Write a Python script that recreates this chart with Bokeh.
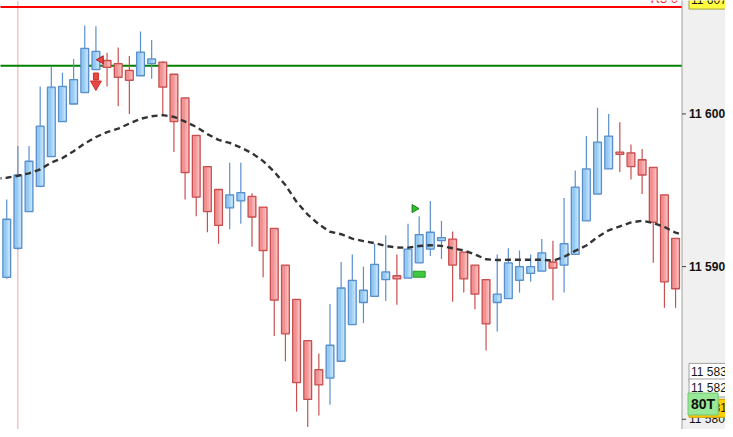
import numpy as np
from bokeh.plotting import figure
from bokeh.models import ColumnDataSource, Range1d, Span
from bokeh.core.properties import value
from bokeh.embed import file_html
from bokeh.resources import INLINE

# ---- data ----
opens = [11589.3, 11591.2, 11593.6, 11595.25, 11597.2, 11599.5, 11600.65, 11601.4, 11602.9, 11603.5,
         11603.3, 11602.85, 11602.5, 11603.3, 11603.4, 11602.6, 11601.05, 11598.6, 11596.55, 11595.05,
         11593.85, 11594.3, 11594.6, 11593.9, 11592.5, 11590.1, 11587.85, 11585.15, 11583.25, 11582.7,
         11583.8, 11586.2, 11587.65, 11588.05, 11589.15, 11589.4, 11589.25, 11590.25, 11591.15, 11591.7,
         11591.8, 11590.95, 11590.1, 11589.15, 11587.65, 11587.9, 11589.1, 11589.55, 11589.7, 11590.3,
         11590.1, 11590.8, 11593.0, 11594.75, 11596.4, 11597.5, 11597.45, 11597.0, 11596.5, 11594.7,
         11591.85]
highs = [11594.4, 11597.9, 11597.9, 11601.8, 11603.1, 11602.7, 11603.6, 11605.8, 11605.75, 11604.0,
         11604.35, 11603.8, 11605.4, 11604.85, 11603.45, 11602.6, 11601.05, 11598.6, 11596.55, 11595.05,
         11596.8, 11596.8, 11594.8, 11593.9, 11592.5, 11590.1, 11587.85, 11585.15, 11584.3, 11587.55,
         11590.3, 11590.8, 11590.0, 11591.5, 11592.05, 11590.8, 11592.8, 11593.3, 11594.3, 11593.0,
         11592.3, 11590.95, 11590.1, 11589.15, 11590.8, 11591.2, 11591.05, 11590.8, 11591.8, 11591.7,
         11594.5, 11596.3, 11598.55, 11600.4, 11600.0, 11599.45, 11598.0, 11597.7, 11596.5, 11594.7,
         11591.85]
lows = [11589.2, 11591.1, 11593.6, 11595.2, 11597.2, 11599.5, 11600.65, 11601.4, 11602.9, 11601.8,
        11600.5, 11600.0, 11602.5, 11602.3, 11600.0, 11597.5, 11594.4, 11593.3, 11592.25, 11591.5,
        11592.45, 11592.8, 11591.3, 11589.3, 11585.45, 11583.8, 11580.5, 11579.5, 11580.25, 11580.95,
        11583.8, 11586.2, 11586.3, 11588.05, 11587.75, 11587.5, 11589.25, 11590.25, 11590.7, 11590.5,
        11587.7, 11588.3, 11587.2, 11584.5, 11585.75, 11587.9, 11588.3, 11589.0, 11589.7, 11587.8,
        11588.3, 11590.8, 11593.0, 11594.75, 11596.4, 11596.2, 11595.7, 11594.75, 11590.25, 11587.3,
        11587.3]
closes = [11593.1, 11596.0, 11596.9, 11599.2, 11601.75, 11601.8, 11602.25, 11604.3, 11604.1, 11603.05,
          11602.4, 11602.2, 11604.05, 11603.6, 11601.75, 11599.5, 11596.15, 11594.55, 11593.6, 11592.7,
          11594.7, 11594.85, 11593.25, 11591.05, 11587.8, 11585.6, 11582.4, 11581.3, 11582.25, 11584.85,
          11588.6, 11589.1, 11588.45, 11590.15, 11589.65, 11589.2, 11591.15, 11592.1, 11592.25, 11591.9,
          11590.1, 11589.2, 11588.2, 11586.25, 11588.2, 11590.25, 11590.0, 11590.0, 11590.9, 11589.9,
          11591.5, 11595.2, 11596.4, 11598.15, 11598.55, 11597.35, 11596.55, 11596.0, 11592.9, 11589.0,
          11588.55]

ma_x = list(range(-1, 62))
ma_vals = [11595.75, 11595.82, 11595.95, 11596.11, 11596.37, 11596.82, 11597.11, 11597.56, 11598.07, 11598.49,
           11598.81, 11599.04, 11599.37, 11599.68, 11599.85, 11599.92, 11599.81, 11599.50, 11599.15, 11598.68,
           11598.30, 11598.10, 11597.80, 11597.43, 11596.91, 11596.21, 11595.34, 11594.24, 11593.41, 11592.77,
           11592.28, 11592.12, 11591.83, 11591.67, 11591.54, 11591.35, 11591.25, 11591.24, 11591.35, 11591.40,
           11591.36, 11591.20, 11591.06, 11590.80, 11590.48, 11590.43, 11590.45, 11590.45, 11590.45, 11590.45,
           11590.39, 11590.64, 11591.03, 11591.38, 11591.93, 11592.38, 11592.64, 11592.89, 11593.00, 11592.86,
           11592.60, 11592.22, 11592.00]

r3_level = 11607.0
r3_text = "R3 0"
r3_price_text = "11 607,"
green_level = 11603.15
crosshair_x = 1
y_ticks = [11580, 11590, 11600]
y_tick_labels = ["11 580", "11 590", "11 600"]
y_tick_styles = ["normal", "bold", "bold"]

down_arrow_x = [8]
down_arrow_head_y = [11601.95]
down_arrow_shaft_y = [11602.45]
left_tri_x = [8.45]
left_tri_y = [11603.55]
right_tri_x = [36.57]
right_tri_y = [11593.8]
green_box_x = [37]
green_box_y = [11589.5]

box_y = [11583.07, 11582.05]
box_text = ["11 583,", "11 582,"]
last_y = 11580.85
last_text = "11 581,"
tag_y = 11581.0
tag_text = "80T"

# ---- layout constants ----
AXIS_X = 60.58          # position of the price-axis border (in bar units)
X_END = 64.48
BODY_W = 0.7
FONT = value("Liberation Sans")

p = figure(width=725, height=429, output_backend="svg", toolbar_location=None,
           x_range=Range1d(-0.56, X_END), y_range=Range1d(11579.33, 11607.43),
           min_border=0)
p.axis.visible = False
p.grid.visible = False
p.outline_line_color = None
p.background_fill_color = "white"
p.border_fill_color = "white"

p.add_layout(Span(location=crosshair_x, dimension="height", line_color="#f2a4a4",
                  line_width=1, level="underlay"))

# level lines
p.segment(x0=[-1, -1], y0=[r3_level, green_level], x1=[AXIS_X, AXIS_X], y1=[r3_level, green_level],
          line_color=["#ff0000", "#008000"], line_width=2)

# candles
x = np.arange(len(opens))
o = np.array(opens); c = np.array(closes)
up = c >= o
top = np.maximum(o, c); bot = np.minimum(o, c)
src = ColumnDataSource(dict(
    x=x, high=highs, low=lows, top=top, bottom=bot,
    fill=np.where(up, "#93c9f2", "#f19191"),
    line=np.where(up, "#5a8fcc", "#c85050"),
))
p.segment(x0="x", y0="high", x1="x", y1="low", source=src, line_color="line", line_width=1.2)
p.vbar(x="x", width=BODY_W, top="top", bottom="bottom", source=src,
       fill_color="fill", line_color="line", line_width=1.3)

# body shading (horizontal gradient imitation: lighter towards the right)
inset = 0.08
itop = top - inset; ibot = bot + inset
ok = itop > ibot
for lo_f, hi_f, col_up, col_dn in [(-0.02, 0.12, "#acd7f7", "#f5a6a6"),
                                   (0.12, 0.27, "#c4e3fb", "#f9bcbc")]:
    sh = ColumnDataSource(dict(
        left=(x + lo_f)[ok], right=(x + hi_f)[ok], top=itop[ok], bottom=ibot[ok],
        fill=np.where(up, col_up, col_dn)[ok]))
    p.quad(left="left", right="right", top="top", bottom="bottom", source=sh,
           fill_color="fill", line_color=None)

# moving average
p.line(ma_x, ma_vals, line_color="#333333", line_width=2.4, line_dash="6 4")

# markers
p.rect(down_arrow_x, down_arrow_shaft_y, width=5, height=7, width_units="screen", height_units="screen",
       fill_color="#e84545", line_color="#d03030")
p.scatter(down_arrow_x, down_arrow_head_y, marker="inverted_triangle", size=11,
          fill_color="#e84545", line_color="#d03030")
p.scatter(left_tri_x, left_tri_y, marker="triangle", angle=np.pi / 2, size=8,
          fill_color="#e84545", line_color="#b02020")
p.scatter(right_tri_x, right_tri_y, marker="triangle", angle=-np.pi / 2, size=8,
          fill_color="#30c030", line_color="#108010")
p.rect(green_box_x, green_box_y, width=12, height=6, width_units="screen", height_units="screen",
       fill_color="#40c840", line_color="#20a020")

p.text(x=[AXIS_X], y=[r3_level], text=[r3_text], text_color="#ff2020", text_font=FONT,
       text_font_size="13px", text_align="right", text_baseline="bottom", x_offset=-4, y_offset=-1)

# ---- price-axis panel (drawn as glyphs) ----
p.quad(left=[AXIS_X], right=[X_END + 1], bottom=[11570], top=[11610],
       fill_color="#f0f0f0", line_color=None)
p.segment(x0=[AXIS_X], y0=[11570], x1=[AXIS_X], y1=[11610], line_color="#a0a0a0", line_width=1)
p.segment(x0=[AXIS_X] * 3, y0=y_ticks, x1=[AXIS_X + 0.36] * 3, y1=y_ticks,
          line_color="#404040", line_width=1)
tick_src = ColumnDataSource(dict(x=[AXIS_X] * 3, y=y_ticks, text=y_tick_labels, style=y_tick_styles))
p.text(x="x", y="y", text="text", source=tick_src, text_font=FONT, text_font_size="12px",
       text_font_style="style", text_color="#101010", text_baseline="middle", x_offset=7)

p.text(x=[AXIS_X] * 2, y=box_y, text=box_text, text_font=FONT, text_font_size="12px",
       text_color="#151515", text_baseline="middle", x_offset=7,
       background_fill_color="white", border_line_color="#a0a0a0", padding=2)
p.text(x=[AXIS_X], y=[r3_level], text=[r3_price_text], text_font=FONT, text_font_size="12px",
       text_color="#151515", text_baseline="bottom", x_offset=7, y_offset=2,
       background_fill_color="#ffff40", border_line_color="#a0a040", padding=2)
p.text(x=[AXIS_X], y=[last_y], text=[last_text], text_font=FONT, text_font_size="12px",
       text_color="#151515", text_baseline="middle", x_offset=7, y_offset=2,
       background_fill_color="#ffcc00", border_line_color="#d0a000", padding=2)
p.text(x=[AXIS_X], y=[tag_y], text=[tag_text], text_font=FONT, text_font_size="14px",
       text_font_style="bold", text_color="#101010", text_baseline="middle", x_offset=6,
       background_fill_color="#98e898", border_line_color="#70c870", padding=3)

open("out.html", "w").write(file_html(p, INLINE))
